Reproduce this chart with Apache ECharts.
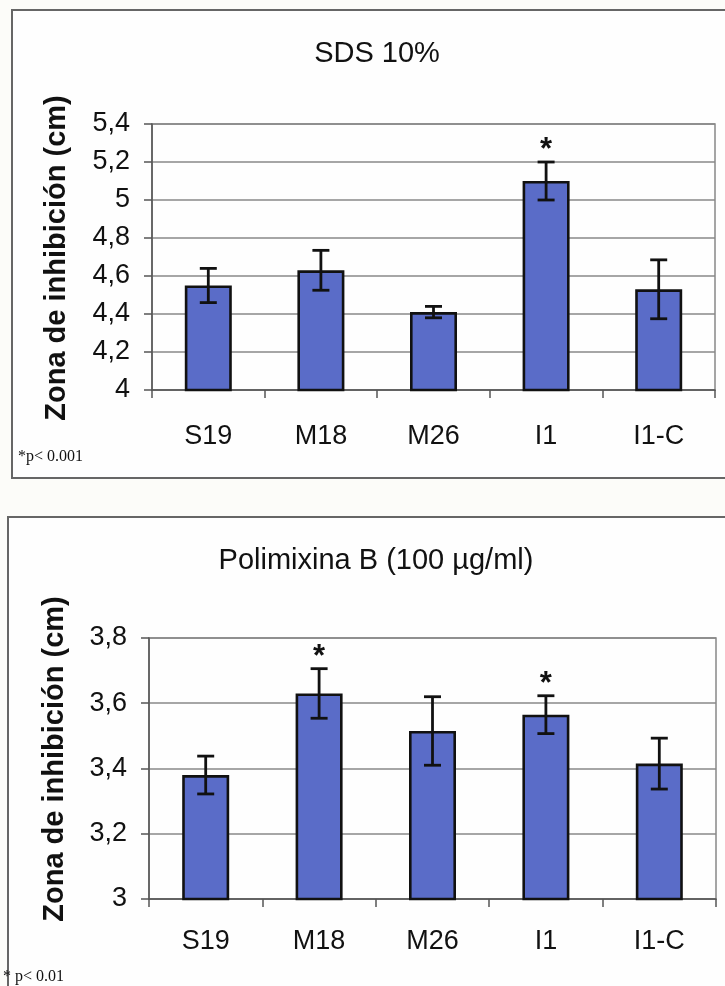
<!DOCTYPE html>
<html>
<head>
<meta charset="utf-8">
<script src="https://cdn.jsdelivr.net/npm/echarts@6/dist/echarts.min.js"></script>
<style>
html,body{margin:0;padding:0;background:#fcfcf9;}
#c{width:725px;height:986px;}
</style>
</head>
<body>
<div id="c"></div>
<script>
// ---- data ----
const categories = ['S19', 'M18', 'M26', 'I1', 'I1-C'];
const sdsMeans = [4.55, 4.63, 4.41, 5.10, 4.53];
const sdsErr = [0.09, 0.105, 0.03, 0.10, 0.155];
const sdsSig = [0, 0, 0, 1, 0];
const polyMeans = [3.38, 3.63, 3.515, 3.565, 3.415];
const polyErr = [0.058, 0.076, 0.105, 0.058, 0.078];
const polySig = [0, 1, 0, 1, 0];
const sdsTicks = { min: 4, max: 5.4, interval: 0.2 };
const polyTicks = { min: 3, max: 3.8, interval: 0.2 };
const titles = ['SDS 10%', 'Polimixina B (100 \u00b5g/ml)'];
const yName = 'Zona de inhibici\u00f3n (cm)';
const notes = ['*p< 0.001', '* p< 0.01'];

const BAR = '#5a6cc8';
const FONT = 'Liberation Sans, Arial, sans-serif';

function fmt(v) { return String(+v.toFixed(1)).replace('.', ','); }

function errData(means, errs, sig) {
  return means.map((m, i) => [i, m - errs[i], m + errs[i], sig[i]]);
}

function renderErr(params, api) {
  const x = api.value(0);
  const lo = api.coord([x, api.value(1)]);
  const hi = api.coord([x, api.value(2)]);
  const cap = 8.5;
  const style = { stroke: '#111', lineWidth: 2.8 };
  const children = [
    { type: 'line', shape: { x1: lo[0], y1: lo[1], x2: hi[0], y2: hi[1] }, style },
    { type: 'line', shape: { x1: lo[0] - cap, y1: lo[1], x2: lo[0] + cap, y2: lo[1] }, style },
    { type: 'line', shape: { x1: hi[0] - cap, y1: hi[1], x2: hi[0] + cap, y2: hi[1] }, style }
  ];
  if (api.value(3)) {
    children.push({
      type: 'text',
      style: { text: '*', x: hi[0], y: hi[1] + 4, align: 'center', verticalAlign: 'bottom',
               font: 'bold 31px ' + FONT, fill: '#111' }
    });
  }
  return { type: 'group', children };
}

const chart = echarts.init(document.getElementById('c'), null, { renderer: 'canvas' });

function yAxis(idx, t) {
  return {
    type: 'value', gridIndex: idx, min: t.min, max: t.max, interval: t.interval,
    axisLine: { show: true, lineStyle: { color: '#555', width: 1.5 } },
    axisTick: { show: true, length: 8, lineStyle: { color: '#555', width: 1.5 } },
    axisLabel: { fontFamily: FONT, fontSize: 27, color: '#111', margin: 22, formatter: fmt },
    splitLine: { show: true, lineStyle: { color: '#888', width: 1.5 } }
  };
}
function xAxis(idx, margin) {
  return {
    type: 'category', gridIndex: idx, data: categories,
    axisLine: { show: true, lineStyle: { color: '#555', width: 1.5 } },
    axisTick: { show: true, length: 8, alignWithLabel: false, lineStyle: { color: '#555', width: 1.5 } },
    axisLabel: { fontFamily: FONT, fontSize: 27, color: '#111', margin: margin }
  };
}
function nameText(x, y) {
  return { type: 'text', x: x, y: y, rotation: Math.PI / 2,
    style: { text: yName, font: 'bold 29px ' + FONT, fill: '#111', align: 'center', verticalAlign: 'middle' } };
}

chart.setOption({
  animation: false,
  backgroundColor: '#fcfcf9',
  title: [
    { text: titles[0], left: 372, top: 34, textAlign: 'center',
      textStyle: { fontFamily: FONT, fontSize: 29, fontWeight: 'normal', color: '#111' } },
    { text: titles[1], left: 371, top: 541, textAlign: 'center',
      textStyle: { fontFamily: FONT, fontSize: 29, fontWeight: 'normal', color: '#111' } }
  ],
  graphic: [
    { type: 'rect', shape: { x: 12, y: 10, width: 740, height: 468 }, z: -1,
      style: { fill: '#fefefe', stroke: '#666', lineWidth: 2 } },
    { type: 'rect', shape: { x: 8, y: 517, width: 740, height: 500 }, z: -1,
      style: { fill: '#fefefe', stroke: '#666', lineWidth: 2 } },
    nameText(57, 258),
    nameText(55, 759),
    { type: 'text', left: 18, top: 449, style: { text: notes[0], font: '16px Liberation Serif, Times New Roman, serif', fill: '#111' } },
    { type: 'text', left: 3, top: 969, style: { text: notes[1], font: '16px Liberation Serif, Times New Roman, serif', fill: '#111' } }
  ],
  grid: [
    { left: 152, right: 10, top: 124, height: 266, show: true, borderColor: '#888', borderWidth: 1.5, backgroundColor: 'transparent' },
    { left: 149, right: 9, top: 638, height: 261, show: true, borderColor: '#888', borderWidth: 1.5, backgroundColor: 'transparent' }
  ],
  xAxis: [xAxis(0, 33), xAxis(1, 29)],
  yAxis: [yAxis(0, sdsTicks), yAxis(1, polyTicks)],
  series: [
    { type: 'bar', xAxisIndex: 0, yAxisIndex: 0, data: sdsMeans, barWidth: 47,
      itemStyle: { color: BAR, borderColor: '#111', borderWidth: 2.6 } },
    { type: 'custom', xAxisIndex: 0, yAxisIndex: 0, renderItem: renderErr,
      data: errData(sdsMeans, sdsErr, sdsSig), z: 5 },
    { type: 'bar', xAxisIndex: 1, yAxisIndex: 1, data: polyMeans, barWidth: 47,
      itemStyle: { color: BAR, borderColor: '#111', borderWidth: 2.6 } },
    { type: 'custom', xAxisIndex: 1, yAxisIndex: 1, renderItem: renderErr,
      data: errData(polyMeans, polyErr, polySig), z: 5 }
  ]
});
</script>
</body>
</html>
